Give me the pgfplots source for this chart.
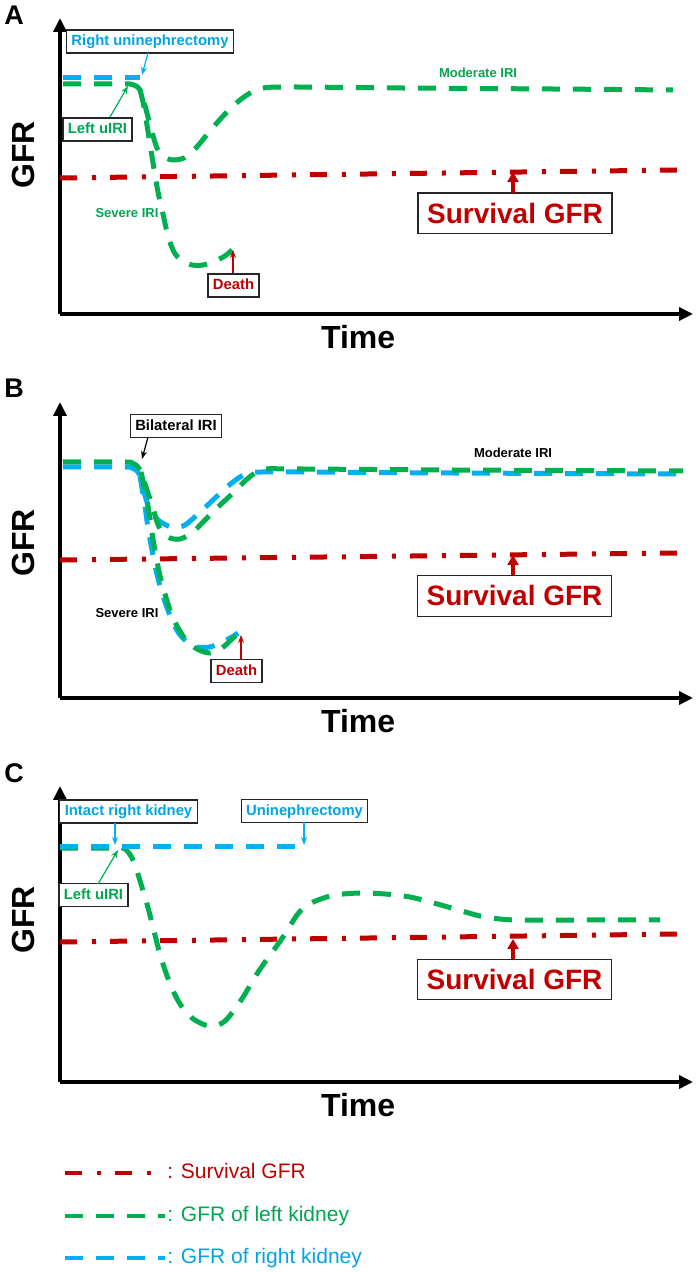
\documentclass[border=0pt]{standalone}
\usepackage{pgfplots}
\pgfplotsset{compat=1.18}
\usetikzlibrary{arrows.meta}
\usepackage{fontspec}
\setmainfont{Liberation Sans}
\definecolor{survred}{RGB}{192,0,0}
\definecolor{gfrgreen}{RGB}{0,176,80}
\definecolor{gfrblue}{RGB}{0,176,240}
\definecolor{txtgreen}{RGB}{0,166,80}
\definecolor{txtblue}{RGB}{0,165,230}
\tikzset{
  redline/.style={survred, line width=2.5pt, dash pattern=on 8.5pt off 7.5pt on 2pt off 7pt},
  greenline/.style={gfrgreen, line width=2.5pt, dash pattern=on 9pt off 6.5pt},
  blueline/.style={gfrblue, line width=2.5pt, dash pattern=on 9pt off 6.5pt},
  box/.style={draw=black!85, line width=0.6pt, fill=white, font=\bfseries\fontsize{7.4}{9}\selectfont, inner xsep=2.5pt, inner ysep=0pt, minimum height=11.5pt, text height=5.6pt, text depth=1.5pt},
  bigbox/.style={draw=black!85, line width=0.7pt, fill=white, text=survred, font=\bfseries\fontsize{14}{16}\selectfont, inner xsep=4.5pt, inner ysep=5pt},
  small/.style={font=\bfseries\fontsize{6.5}{8}\selectfont, inner sep=0pt},
  thinarrow/.style={line width=0.6pt, -{Stealth[length=4pt,width=3pt]}},
  thickarrow/.style={survred, line width=1.6pt, -{Triangle[length=5pt,width=5.5pt]}},
  letter/.style={font=\bfseries\fontsize{13.5}{15}\selectfont, inner sep=0pt, anchor=base west},
}
\pgfplotsset{
  panel/.style={
    scale only axis, width=316.5pt, height=148pt,
    xmin=60, xmax=693, ymin=0, ymax=296,
    axis lines=left, ticks=none, clip=false,
    axis line style={line width=2pt, -{Triangle[length=7pt,width=6.5pt]}},
    xlabel={Time}, ylabel={GFR},
    label style={font=\bfseries\fontsize{16}{19}\selectfont, inner sep=0pt},
    x label style={at={(axis description cs:0.471,0)}, anchor=north, yshift=-5.5pt},
    y label style={at={(axis description cs:-0.0395,0.537)}, anchor=south},
  }
}
\begin{document}
\begin{tikzpicture}
\useasboundingbox (0,0) rectangle (350pt,636pt);
% ---------------- Panel A ----------------
\begin{axis}[panel, at={(30pt,479pt)}, anchor=south west]
\addplot[redline] coordinates {(60,136) (678,144)};
\addplot[greenline, smooth, tension=0.5] coordinates {(63,230) (120,230) (130,230) (136,228) (140,224) (144,212) (148,197) (152,182) (157,166) (164,157) (173,154) (184,156) (195,165) (210,183) (225,200) (240,214) (252,222) (263,226) (290,227) (400,226) (550,225) (673,224)};
\addplot[greenline, smooth, tension=0.5] coordinates {(140,224) (143,212) (146,195) (150,170) (154,145) (158,122) (163,100) (168,78) (174,62) (182,53) (192,49) (203,49) (215,53) (225,58) (232,64)};
\addplot[blueline] coordinates {(63,236) (140,236)};
\node[box, text=txtblue] at (axis cs:150,272.5) {Right uninephrectomy};
\draw[thinarrow, gfrblue] (axis cs:148,261) -- (axis cs:142,239);
\node[box, text=txtgreen] at (axis cs:97.5,184.5) {Left uIRI};
\draw[thinarrow, gfrgreen] (axis cs:110,197) -- (axis cs:128,228);
\node[small, text=txtgreen] at (axis cs:127,101) {Severe IRI};
\node[small, text=txtgreen] at (axis cs:478,241) {Moderate IRI};
\node[box, text=survred] at (axis cs:233.5,28.5) {Death};
\draw[thinarrow, survred] (axis cs:233,40.5) -- (axis cs:233,64);
\node[bigbox] at (axis cs:515,100.5) {Survival GFR};
\draw[thickarrow] (axis cs:513,121) -- (axis cs:513,142);
\node[letter] at (axis cs:4,289) {A};
\end{axis}
% ---------------- Panel B ----------------
\begin{axis}[panel, at={(30pt,287pt)}, anchor=south west,
  y label style={at={(axis description cs:-0.0395,0.524)}}]
\addplot[redline] coordinates {(60,138) (678,145)};
\addplot[blueline, smooth, tension=0.5] coordinates {(63,231) (125,231) (132,230) (137,227) (140,222) (143,210) (147,196) (152,185) (158,178) (166,173) (175,170) (185,173) (197,183) (212,197) (227,211) (240,221) (250,225) (262,226) (300,226) (450,225) (683,224)};
\addplot[blueline, smooth, tension=0.5] coordinates {(140,222) (142,210) (145,192) (148,170) (152,148) (156,128) (160,112) (165,96) (171,80) (178,66) (187,56) (197,51) (210,51) (222,56) (232,61) (238,65)};
\addplot[greenline, smooth, tension=0.5] coordinates {(63,236) (125,236) (132,235) (137,232) (141,226) (145,214) (149,202) (153,190) (157,176) (162,166) (170,160) (180,159) (192,165) (205,178) (218,191) (232,204) (245,217) (255,225) (265,229) (300,229) (450,228) (683,227)};
\addplot[greenline, smooth, tension=0.5] coordinates {(141,226) (144,213) (148,192) (152,165) (156,142) (160,122) (165,104) (170,88) (177,72) (186,58) (197,49) (210,45) (222,50) (232,59) (238,65)};
\node[box, text=black] at (axis cs:176,272) {Bilateral IRI};
\draw[thinarrow, black] (axis cs:148,261) -- (axis cs:142,239);
\node[small, text=black] at (axis cs:513,245) {Moderate IRI};
\node[small, text=black] at (axis cs:127,85) {Severe IRI};
\node[box, text=survred] at (axis cs:236.5,27) {Death};
\draw[thinarrow, survred] (axis cs:241,38) -- (axis cs:241,63);
\node[bigbox] at (axis cs:514.5,102) {Survival GFR};
\draw[thickarrow] (axis cs:513,123) -- (axis cs:513,143);
\node[letter] at (axis cs:4,300) {B};
\end{axis}
% ---------------- Panel C ----------------
\begin{axis}[panel, at={(30pt,95pt)}, anchor=south west,
  y label style={at={(axis description cs:-0.0395,0.547)}},
  legend style={at={(axis description cs:0.0047,-0.272)}, anchor=north west, draw=none, fill=none,
    font=\fontsize{10.5}{12}\selectfont, row sep=10.75pt, inner sep=0pt,
    nodes={inner sep=0pt, text height=8pt, text depth=2.5pt}},
  legend cell align=left,
  legend image code/.code={\draw[#1] (0pt,0pt) -- (50pt,0pt);},
  /tikz/every odd column/.append style={column sep=0pt}]
\addplot[redline, forget plot] coordinates {(60,140) (680,148)};
\addplot[greenline, smooth, tension=0.5, forget plot] coordinates {(60,234) (110,234) (118,235) (125,233) (131,226) (136,214) (141,198) (147,178) (153,155) (158,135) (164,115) (171,96) (180,78) (192,64) (205,57) (215,56) (225,61) (235,73) (245,88) (255,105) (265,120) (276,135) (287,151) (297,167) (306,176) (318,182) (335,187) (360,189) (385,188) (410,185) (430,180) (455,173) (480,166) (500,163) (520,162) (580,162) (660,162)};
\addplot[blueline, forget plot] coordinates {(60,235) (303,235)};
\node[box, text=txtblue] at (axis cs:128.5,270.5) {Intact right kidney};
\draw[thinarrow, gfrblue] (axis cs:115,259) -- (axis cs:115,237);
\node[box, text=txtblue] at (axis cs:304.5,271) {Uninephrectomy};
\draw[thinarrow, gfrblue] (axis cs:304,260) -- (axis cs:304,237);
\node[box, text=txtgreen] at (axis cs:93.5,187) {Left uIRI};
\draw[thinarrow, gfrgreen] (axis cs:98,198) -- (axis cs:118,232);
\node[bigbox] at (axis cs:514.5,102.5) {Survival GFR};
\draw[thickarrow] (axis cs:513,123) -- (axis cs:513,143);
\node[letter] at (axis cs:4,299) {C};
\addlegendimage{redline, line width=2pt}
\addlegendentry{\textcolor{survred}{: Survival GFR}}
\addlegendimage{greenline, line width=2pt}
\addlegendentry{\textcolor{txtgreen}{: GFR of left kidney}}
\addlegendimage{blueline, line width=2pt}
\addlegendentry{\textcolor{txtblue}{: GFR of right kidney}}
\end{axis}
\end{tikzpicture}
\end{document}
